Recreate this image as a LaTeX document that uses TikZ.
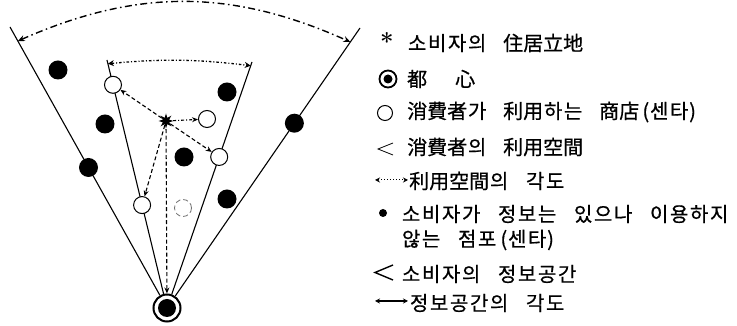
\documentclass[tikz,border=0pt]{standalone}
\usepackage{fontspec}
\newfontfamily\kr[FakeBold=0.6]{Noto Sans CJK KR}
\usetikzlibrary{arrows.meta,calc,shapes.geometric}
\newcommand\kgap{\hspace{16pt}}
\makeatletter
\def\monoend{\monoend}
\newcommand\mono[1]{\mono@loop#1\monoend}
\def\mono@loop#1{%
  \ifx#1\monoend
  \else
    \mono@one{#1}%
    \expandafter\mono@loop
  \fi}
\def\mono@one#1{%
  \ifx#1\kgap\hspace{16pt}%
  \else\ifx#1(\makebox[10pt][r]{#1}%
  \else\ifx#1)\makebox[10pt][l]{#1}%
  \else\makebox[20pt][c]{#1}%
  \fi\fi\fi}
\makeatother
\begin{document}
\begin{tikzpicture}[x=1pt,y=1pt,
  dot/.style={circle,fill=black,minimum size=19pt,inner sep=0pt},
  shop/.style={circle,draw=black,fill=white,line width=1pt,minimum size=17pt,inner sep=0pt},
  ray/.style={line width=1.1pt},
  tip/.style={-{Stealth[length=6pt,width=5pt]}},
  visit/.style={tip,line width=1.1pt,dash pattern=on 4pt off 2.5pt},
  visitdd/.style={tip,line width=1.1pt,dash pattern=on 3pt off 2pt on 1pt off 2pt},
  arcout/.style={{Stealth[length=7pt,width=6pt]}-{Stealth[length=7pt,width=6pt]},line width=1.4pt,dash pattern=on 7pt off 3.5pt on 1.5pt off 3.5pt},
  arcin/.style={{Stealth[length=6pt,width=6pt]}-{Stealth[length=6pt,width=6pt]},line width=1.3pt,dash pattern=on 2.5pt off 2pt on 1pt off 2pt},
  ltext/.style={anchor=west,inner sep=0pt,font=\kr\fontsize{20}{23}\selectfont}
]
\useasboundingbox (0,0) rectangle (737,326);
% city centre
\node[circle,draw=black,line width=2pt,minimum size=27pt,inner sep=0pt] (cbd) at (167,18) {};
\fill (cbd) circle (9);
% rays
\coordinate (OL) at (10,299);
\coordinate (OR) at (360,298);
\coordinate (IL) at (107,266);
\coordinate (IR) at (252,264);
\draw[ray] (OL) -- (cbd);
\draw[ray] (OR) -- (cbd);
\draw[ray] (IL) -- (cbd);
\draw[ray] (IR) -- (cbd);
% arcs
\coordinate (A1) at ($(OL)!0.05!(cbd)$);
\coordinate (A2) at ($(OR)!0.05!(cbd)$);
\coordinate (B1) at ($(IL)!0.015!(cbd)$);
\coordinate (B2) at ($(IR)!0.015!(cbd)$);
\draw[arcout] (A1) to[bend left=24] (A2);
\draw[arcin] (B1) to[bend left=6] (B2);
% unused stores
\node[dot] (d1) at (58,256) {};
\node[dot] (d2) at (105,202) {};
\node[dot] (d3) at ($(OL)!0.5!(cbd)$) {};
\node[dot] (d4) at (227,234) {};
\node[dot] (d5) at (184,169) {};
\node[dot] (d6) at ($(OR)!0.34!(cbd)$) {};
\node[dot] (d7) at (227,127) {};
% used stores
\node[shop] (o1) at ($(IL)!0.1!(cbd)$) {};
\node[shop] (o2) at (207,207) {};
\node[shop] (o3) at ($(IR)!0.386!(cbd)$) {};
\node[shop] (o4) at ($(IL)!0.585!(cbd)$) {};
\node[shop,draw=black!55,line width=0.8pt,dash pattern=on 5pt off 3pt] (o5) at (183,118) {};
% consumer residence
\node[star,star points=8,star point ratio=2.2,fill=black,minimum size=15pt,inner sep=0pt] (home) at (166,205) {};
\draw[visit] (home) -- (o1);
\draw[visitdd] (home) -- (o2);
\draw[visit] (home) -- (o3);
\draw[visit] (home) -- (o4);
\draw[visit] (home) -- (cbd);
% legend
\node[font=\bfseries\fontsize{24}{24}\selectfont,inner sep=0pt] (s1) at (387,284) {*};
\node[ltext] (t1) at (407,283) {\mono{소비자의\kgap 住居立地}};
\node[circle,draw=black,line width=1.8pt,minimum size=17pt,inner sep=0pt] (s2) at (388,247) {};
\fill (s2) circle (4.5);
\node[ltext] (t2) at (407,247) {\mono{都}\hspace{28pt}\mono{心}};
\node[circle,draw=black,line width=1pt,minimum size=15pt,inner sep=0pt] (s3) at (385,213) {};
\node[ltext] (t3) at (407,214) {\mono{消費者가\kgap 利用하는\kgap 商店(센타)}};
\coordinate (s4a) at (393,183);
\coordinate (s4b) at (378,177);
\coordinate (s4c) at (393,171);
\draw[line width=0.8pt] (s4a) -- (s4b) -- (s4c);
\node[ltext] (t4) at (407,179) {\mono{消費者의\kgap 利用空間}};
\coordinate (s5a) at (375,146);
\coordinate (s5b) at (408,146);
\draw[{Stealth[length=5pt,width=5pt]}-{Stealth[length=5pt,width=5pt]},line width=1pt,dash pattern=on 1pt off 2pt] (s5a) -- (s5b);
\node[ltext] (t5) at (409,145) {\mono{利用空間의\kgap 각도}};
\node[circle,fill=black,minimum size=8pt,inner sep=0pt] (s6) at (383,113) {};
\node[ltext] (t6) at (401,112) {\mono{소비자가\kgap 정보는\kgap 있으나\kgap 이용하지}};
\node[ltext] (t7) at (401,86) {\mono{않는\kgap 점포(센타)}};
\coordinate (s8a) at (393,61);
\coordinate (s8b) at (375,53.5);
\coordinate (s8c) at (393,46);
\draw[line width=1.4pt] (s8a) -- (s8b) -- (s8c);
\node[ltext] (t8) at (401,52) {\mono{소비자의\kgap 정보공간}};
\coordinate (s9a) at (375,25);
\coordinate (s9b) at (408,25);
\draw[{Stealth[length=5pt,width=5pt]}-{Stealth[length=5pt,width=5pt]},line width=1.2pt] (s9a) -- (s9b);
\node[ltext] (t9) at (409,23) {\mono{정보공간의\kgap 각도}};
\end{tikzpicture}
\end{document}
